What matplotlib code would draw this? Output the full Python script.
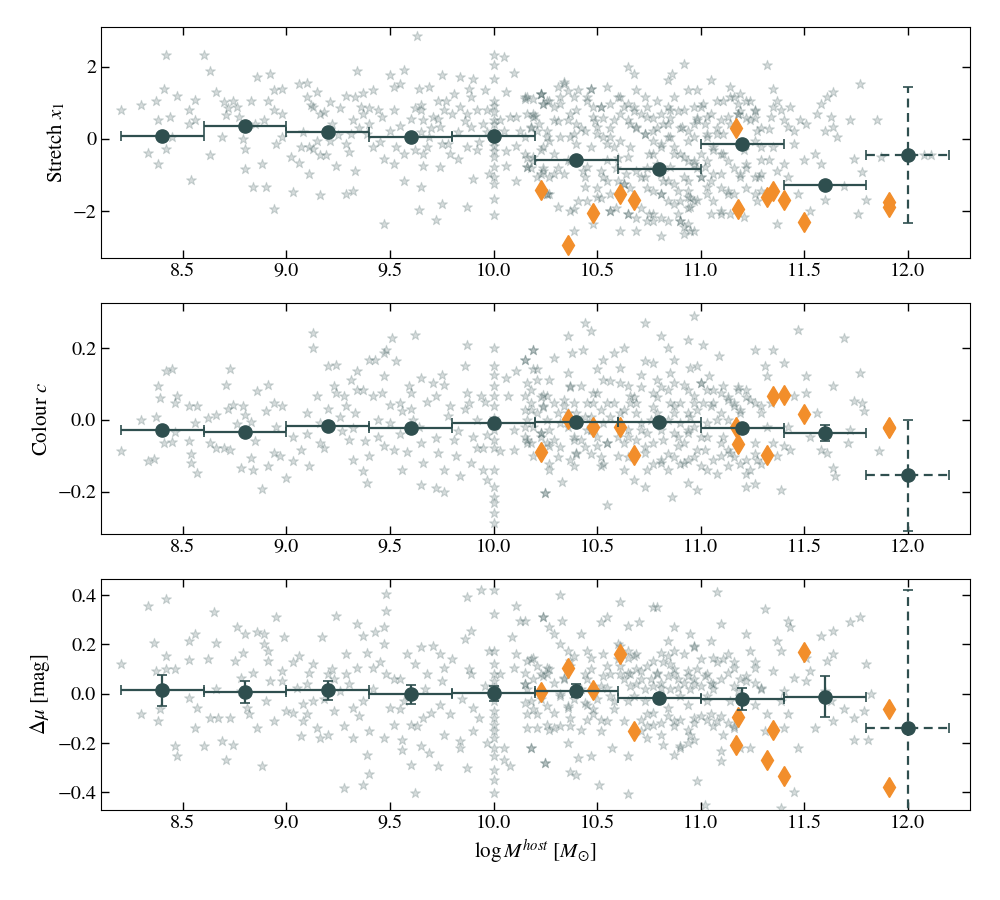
import matplotlib
matplotlib.use("Agg")
import matplotlib.pyplot as plt
import numpy as np

plt.rcParams['font.family'] = ['STIXGeneral', 'DejaVu Serif']
plt.rcParams['mathtext.fontset'] = 'stix'

# binned means
bin_centres = [8.4, 8.8, 9.2, 9.6, 10.0, 10.4, 10.8, 11.2, 11.6, 12.0]
bin_halfwidth = [0.2] * 10
stretch_mean = [0.07, 0.36, 0.19, 0.06, 0.07, -0.58, -0.84, -0.14, -1.27, -0.45]
stretch_err = [0.05, 0.05, 0.04, 0.04, 0.04, 0.05, 0.05, 0.06, 0.07, 1.88]
colour_mean = [-0.029, -0.033, -0.017, -0.023, -0.010, -0.006, -0.006, -0.022, -0.037, -0.155]
colour_err = [0.006, 0.006, 0.005, 0.005, 0.005, 0.005, 0.005, 0.007, 0.022, 0.155]
hr_mean = [0.014, 0.007, 0.014, -0.003, 0.001, 0.012, -0.016, -0.022, -0.012, -0.140]
hr_err = [0.064, 0.045, 0.038, 0.038, 0.032, 0.027, 0.015, 0.044, 0.084, 0.56]

# orange diamonds
diamond_mass = [10.23, 10.36, 10.48, 10.61, 10.68, 11.17, 11.18, 11.32, 11.35, 11.40, 11.50, 11.91, 11.91]
diamond_stretch = [-1.42, -2.94, -2.06, -1.52, -1.71, 0.31, -1.94, -1.62, -1.44, -1.69, -2.30, -1.76, -1.90]
diamond_colour = [-0.091, 0.002, -0.019, -0.019, -0.098, -0.021, -0.067, -0.098, 0.065, 0.070, 0.017, -0.021, -0.024]
diamond_hr = [0.008, 0.106, 0.014, 0.161, -0.150, -0.207, -0.094, -0.271, -0.146, -0.335, 0.171, -0.063, -0.378]

# background sample (mass, value)
stretch_stars = [
    (8.20, 0.79), (8.30, 0.95), (8.33, -0.39), (8.37, 1.06), (8.38, -0.71), (8.41, 1.39), (8.42, 2.31),
    (8.38, 0.51), (8.44, 0.60), (8.47, 1.20), (8.42, -0.28), (8.45, 0.05), (8.54, -1.13), (8.53, 0.79),
    (8.56, 1.08), (8.53, 0.40), (8.56, 0.51), (8.60, 2.33), (8.63, 1.87), (8.66, 1.30), (8.63, -0.44),
    (8.69, 0.05), (8.71, 0.65), (8.70, 1.02), (8.74, 1.06), (8.76, 0.88), (8.77, 0.60), (8.79, 0.00),
    (8.80, -0.28), (8.80, -0.83), (8.84, -1.34), (8.90, -1.34), (8.88, -0.71), (8.89, 0.51), (8.86, 1.71),
    (8.92, 1.81), (8.83, 1.06), (8.91, 1.06), (8.94, 1.34), (8.98, 1.39), (8.94, 0.79), (8.98, 0.05),
    (8.95, -0.14), (8.94, -1.94), (9.02, -0.51), (9.03, -1.48), (9.06, -0.68), (9.07, -0.23), (9.06, 1.53),
    (9.10, 1.55), (9.10, 1.16), (9.15, 1.30), (9.13, 0.88), (9.16, 0.69), (9.15, -0.05), (9.11, -0.23),
    (9.13, -0.28), (9.16, -0.46), (9.19, -0.46), (9.11, -0.97), (9.16, -1.57), (9.21, -0.05), (9.24, -0.74),
    (9.21, 1.02), (9.29, 1.20), (9.33, 1.16), (9.34, 1.87), (9.37, 1.27), (9.36, 0.88), (9.32, 0.51),
    (9.31, 0.14), (9.30, -0.37), (9.29, -0.14), (9.33, -0.88), (9.32, -1.44), (9.29, -1.53), (9.37, 0.69),
    (9.42, 1.34), (9.44, 0.79), (9.40, 0.42), (9.39, 0.14), (9.42, -0.23), (9.47, -0.56), (9.47, -2.36),
    (9.50, 1.76), (9.52, 1.44), (9.55, 1.53), (9.57, 1.90), (9.52, 0.79), (9.50, 0.23), (9.53, -0.23),
    (9.52, -0.69), (9.57, -1.16), (9.57, -0.42), (9.61, 0.05), (9.64, 1.39), (9.63, 2.84), (9.65, 0.93),
    (9.65, 0.79), (9.66, 0.51), (9.65, 0.19), (9.69, 0.05), (9.68, -0.23), (9.66, -0.42), (9.65, -1.34),
    (9.64, -1.97), (9.69, 1.44), (9.73, 1.06), (9.75, 1.76), (9.71, 0.60), (9.74, 0.32), (9.76, 0.79),
    (9.77, 1.06), (9.75, -0.14), (9.74, -0.79), (9.75, -1.81), (9.72, -2.25), (9.79, -0.42), (9.84, 1.71),
    (9.81, 1.25), (9.84, 0.88), (9.87, 0.69), (9.89, 1.16), (9.90, 1.67), (9.88, 1.39), (9.89, 0.32),
    (9.87, -0.23), (9.92, -0.32), (9.90, -1.11), (9.87, -1.90), (9.96, 1.34), (10.05, 2.27), (10.10, 1.82),
    (10.06, 1.30), (9.97, 0.79), (9.98, -0.97), (10.03, 0.51), (10.05, 0.23), (10.08, 0.60), (10.11, 0.60),
    (10.13, 0.23), (10.15, 1.11), (10.11, -0.19), (10.06, -0.74), (10.11, -1.16), (10.16, -0.79),
    (10.19, 0.60), (10.23, 1.25), (10.26, 1.06), (10.21, 0.23), (10.24, -0.23), (10.19, -0.51),
    (10.24, -0.88), (10.26, -1.53),
    (9.12, 0.95), (9.18, 0.75), (9.22, 0.40), (9.26, 0.85), (9.35, 0.30), (9.40, 0.85), (9.46, 0.60),
    (9.55, 0.35), (9.60, 0.55), (9.62, 0.85), (9.70, 0.30), (9.73, 0.55), (9.80, 0.70), (9.83, 0.20),
    (9.86, 0.50), (9.92, 0.80), (9.95, 0.40), (9.93, -0.10), (9.97, 0.20), (9.78, -0.15), (9.62, -0.30),
    (9.45, -0.10), (9.25, 0.10), (9.08, 0.20), (8.98, 0.70), (8.85, 0.40), (8.72, 0.85), (9.66, -0.75),
    (9.83, -0.55), (10.06, -0.35),
    (10.16, 1.16), (10.23, 1.25), (10.19, 0.69), (10.18, 0.32), (10.15, -0.42), (10.16, -0.79),
    (10.24, 0.97), (10.27, 1.06), (10.29, 0.51), (10.26, 0.05), (10.23, -0.32), (10.21, -1.06),
    (10.26, -1.53), (10.31, 1.44), (10.34, 1.57), (10.32, 0.97), (10.36, 0.51), (10.37, 0.05),
    (10.36, -0.60), (10.34, -0.97), (10.31, -1.90), (10.37, -1.99), (10.39, -2.55), (10.40, 0.79),
    (10.41, 1.34), (10.44, 0.23), (10.45, 1.06), (10.47, 1.39), (10.48, 0.60), (10.52, 0.88), (10.50, 0.32),
    (10.47, -0.23), (10.45, -0.79), (10.44, -1.34), (10.50, -1.62), (10.48, -2.36), (10.55, 1.44),
    (10.56, 0.97), (10.58, 0.51), (10.56, 0.05), (10.55, -0.60), (10.53, -1.06), (10.56, -1.99),
    (10.61, -2.55), (10.60, 1.16), (10.63, 0.88), (10.65, 0.51), (10.61, -0.05), (10.65, -0.51),
    (10.63, -1.25), (10.65, -2.08), (10.65, 1.99), (10.68, 1.81), (10.69, 1.34), (10.68, 0.88),
    (10.69, 0.32), (10.66, -0.23), (10.69, -0.88), (10.69, -2.55), (10.73, 1.16), (10.74, 0.60),
    (10.73, 0.14), (10.75, -0.42), (10.73, -1.06), (10.75, -2.08), (10.77, -2.27), (10.79, 1.06),
    (10.81, 0.69), (10.77, 0.23), (10.81, -0.23), (10.79, -0.69), (10.82, -1.16), (10.81, -1.53),
    (10.81, -2.69), (10.84, 1.62), (10.86, 1.81), (10.87, 1.16), (10.85, 0.79), (10.84, 0.42),
    (10.85, 0.05), (10.87, -0.42), (10.85, -0.79), (10.89, -1.44), (10.89, -2.08), (10.90, -2.27),
    (10.92, 2.08), (10.94, 1.34), (10.92, 0.79), (10.91, 0.32), (10.94, -0.05), (10.92, -0.51),
    (10.94, -1.16), (10.94, -1.62), (10.95, -1.90), (10.92, -2.45), (10.97, -2.55), (10.98, 1.34),
    (10.97, 0.88), (10.98, 0.51), (10.97, 0.05), (11.00, -0.42), (10.97, -0.69), (11.00, -1.06),
    (10.98, -1.71), (11.01, 0.97), (11.03, 0.60), (11.03, 0.05), (11.05, 1.62), (11.06, -0.32),
    (11.02, -0.79), (11.03, -1.34), (11.05, -2.08), (11.10, -2.08), (11.08, 1.06), (11.10, 0.51),
    (11.08, 0.14), (11.11, -0.42), (11.10, -0.97), (11.13, -1.53), (11.14, 1.44), (11.16, 1.16),
    (11.13, 0.60), (11.19, 1.25), (11.22, 1.06), (11.18, 0.69), (11.24, 0.51), (11.21, -0.32),
    (11.22, -0.69), (11.19, -1.06), (11.21, -2.18), (11.26, 0.79), (11.27, 0.23), (11.26, -0.05),
    (11.29, -0.23), (11.29, -0.60), (11.28, -1.06), (11.29, -1.44), (11.32, 2.04), (11.33, 0.28),
    (11.35, 1.39), (11.35, 0.88), (11.34, 0.60), (11.37, 1.06), (11.39, 0.79), (11.40, 0.51),
    (11.35, -0.23), (11.33, -0.60), (11.37, -0.88), (11.40, -0.69), (11.42, -1.06), (11.37, -2.36),
    (11.43, 0.88), (11.42, 0.32), (11.45, 0.23), (11.48, 0.51), (11.45, -0.14), (11.47, -1.53),
    (11.51, 0.42), (11.50, -0.60), (11.53, -1.99), (11.56, 0.69), (11.55, -0.42), (11.58, -0.69),
    (11.60, 0.23), (11.60, -1.71), (11.61, 1.16), (11.64, 1.30), (11.64, 0.32), (11.66, 0.05),
    (11.63, 0.60), (11.58, 0.97), (11.72, 0.51), (11.69, -1.30), (11.74, -0.56), (11.77, 1.53),
    (11.76, -2.08), (11.78, -0.93), (11.85, 0.51), (11.87, -0.51), (11.80, -1.71), (12.08, -0.46),
    (12.11, -0.46), (12.01, -0.46),
    (10.15, 1.15), (10.19, 1.10), (10.16, 0.69), (10.20, 0.64), (10.18, 0.31), (10.15, 0.04), (10.16, -0.52),
    (10.19, -0.61), (10.18, -0.80), (10.23, 1.24), (10.24, 0.96), (10.22, 0.41), (10.26, 0.22), (10.27, -0.06),
    (10.24, -0.80), (10.27, -1.07), (10.29, -0.98), (10.23, -0.98), (10.27, -1.54), (10.29, 0.87), (10.31, 0.50),
    (10.32, 0.04), (10.29, -0.43), (10.31, -0.80), (10.32, 1.15), (10.34, 1.52), (10.36, 1.33), (10.39, 1.15),
    (10.37, 0.69), (10.40, 0.41), (10.39, 0.13), (10.42, 0.31), (10.40, -0.15), (10.37, -0.61), (10.43, -0.89),
    (10.44, -1.07), (10.45, 1.15), (10.47, 1.38), (10.48, 0.87), (10.49, 0.50), (10.52, 0.87), (10.53, 0.59),
    (10.50, 0.13), (10.53, 0.04), (10.55, -0.15), (10.56, 0.31), (10.58, -0.24), (10.60, -0.52), (10.52, -0.89),
    (10.50, -1.35), (10.55, -1.17), (10.56, -1.54), (10.52, -1.63), (10.45, -1.72), (10.41, -1.72),
    (10.39, -1.95), (10.59, -0.80), (10.61, 0.69), (10.61, 1.15), (10.60, -1.17), (10.63, -1.26), (10.64, -0.98),
    (10.65, -2.09), (10.66, -1.35), (10.59, -1.91), (10.56, -2.00), (10.65, 0.96), (10.68, 0.78), (10.66, 0.41),
    (10.69, 0.31), (10.71, 0.69), (10.73, 0.13), (10.74, 0.87), (10.77, 0.59), (10.79, 0.31), (10.82, 0.41),
    (10.84, 0.87), (10.85, 0.59), (10.89, 0.78), (10.90, 0.31), (10.94, 0.22), (10.97, 0.41), (10.98, 0.59),
    (11.00, 0.87), (10.77, -0.06), (10.81, -0.15), (10.84, 0.04), (10.87, -0.24), (10.90, -0.43),
    (10.94, -0.61), (10.97, -0.61), (10.98, -0.80), (11.00, -1.07), (10.77, -0.43), (10.74, -0.80),
    (10.71, -1.07), (10.81, -0.98), (10.84, -1.17), (10.87, -1.26), (10.92, -1.07), (10.94, -1.44),
    (10.95, -1.63), (10.97, -1.72), (10.90, -1.72), (10.87, -1.81), (10.94, -1.91), (10.74, -1.35),
    (10.77, -1.44), (10.81, -1.54), (10.84, -1.72), (10.77, -2.09), (10.81, -2.19), (10.84, -2.28),
    (10.90, -2.28), (10.94, -2.37), (10.95, -2.56), (10.92, -2.65), (10.71, -1.91), (10.68, -1.72),
    (10.69, -2.19), (10.74, -2.28), (11.02, 0.41), (11.05, 0.69), (11.08, 0.31), (11.11, 0.13), (11.14, 0.41),
    (11.18, 0.69), (11.19, 0.78), (11.22, 0.59), (11.26, 0.78), (11.03, 0.13), (11.06, -0.24), (11.10, -0.43),
    (11.13, -0.61), (11.16, -0.80), (11.19, -0.98), (11.22, -0.80), (11.26, -1.07), (11.29, -0.98),
    (11.03, -0.61), (11.06, -0.98), (11.10, -1.35), (11.13, -1.44), (11.16, -1.54), (11.22, -1.35),
    (11.26, -1.54), (11.27, -1.72), (11.05, -1.17), (11.03, -1.54), (11.06, -1.72), (11.10, -2.00),
    (11.14, -2.09), (11.11, 1.06), (11.14, 1.15), (11.18, 0.96), (11.24, 1.06), (11.26, 0.59), (11.29, 0.31),
]
stretch_at10 = [2.31, 2.04, 1.67, 1.06, 0.90, 0.74, 0.51, 0.40, 0.23, 0.10, -0.05, -0.20, -0.35,
                -0.51, -0.79, -1.06, -1.25, -1.67, -2.10]

colour_stars = [
    (8.20, -0.088), (8.30, 0.000), (8.33, -0.116), (8.36, -0.109), (8.37, 0.009), (8.38, 0.095),
    (8.39, 0.060), (8.42, 0.135), (8.45, 0.141), (8.41, -0.065), (8.45, -0.062), (8.47, 0.067),
    (8.46, 0.047), (8.46, -0.033), (8.53, 0.037), (8.57, 0.039), (8.53, -0.060), (8.54, -0.096),
    (8.54, -0.121), (8.57, -0.149), (8.56, -0.009), (8.62, 0.005), (8.66, 0.014), (8.63, -0.065),
    (8.66, -0.079), (8.70, -0.079), (8.73, -0.084), (8.71, 0.098), (8.73, 0.140), (8.74, 0.042),
    (8.76, -0.012), (8.79, 0.037), (8.80, 0.014), (8.83, -0.005), (8.86, 0.079), (8.91, 0.098),
    (8.90, 0.023), (8.94, 0.047), (8.98, 0.037), (8.78, -0.135), (8.83, -0.107), (8.84, -0.140),
    (8.88, -0.193), (8.91, -0.130), (8.94, -0.093), (8.97, -0.102), (9.00, -0.163), (9.03, -0.116),
    (9.03, -0.047), (9.07, -0.084), (9.10, 0.019), (9.13, 0.242), (9.13, 0.200), (9.15, 0.065),
    (9.11, -0.130), (9.16, -0.065), (9.20, 0.149), (9.23, 0.093), (9.24, 0.153), (9.24, 0.074),
    (9.28, 0.065), (9.29, 0.037), (9.26, 0.009), (9.30, -0.056), (9.32, -0.112), (9.31, 0.112),
    (9.34, 0.135), (9.34, 0.084), (9.32, -0.023), (9.37, -0.144), (9.39, -0.177), (9.37, 0.084),
    (9.40, 0.167), (9.43, 0.167), (9.42, 0.065), (9.44, -0.047), (9.47, 0.186), (9.48, 0.195),
    (9.51, 0.228), (9.53, 0.163), (9.47, 0.121), (9.46, 0.074), (9.50, -0.009), (9.52, -0.084),
    (9.47, -0.074), (9.56, -0.140), (9.55, 0.047), (9.56, 0.023), (9.60, 0.074), (9.59, 0.093),
    (9.62, 0.237), (9.65, 0.116), (9.61, 0.000), (9.65, -0.065), (9.66, -0.121), (9.65, -0.181),
    (9.71, 0.102), (9.75, 0.126), (9.76, 0.098), (9.72, 0.065), (9.73, -0.093), (9.76, -0.140),
    (9.72, -0.191), (9.76, -0.200), (9.79, 0.037), (9.81, -0.056), (9.84, -0.158), (9.86, 0.149),
    (9.87, 0.209), (9.87, 0.074), (9.88, 0.047), (9.90, -0.047), (9.89, -0.121), (9.94, 0.065),
    (9.92, -0.079), (9.95, -0.140), (9.97, -0.167), (9.97, -0.042), (10.03, -0.088), (10.06, 0.116),
    (10.07, 0.065), (10.10, -0.028), (10.11, 0.135), (10.10, -0.084), (10.15, 0.167), (10.18, 0.084),
    (10.19, 0.195), (10.21, 0.112), (10.24, 0.070), (10.23, -0.037), (10.16, -0.065), (10.25, -0.203),
    (10.21, 0.141),
    (9.10, -0.040), (9.16, -0.010), (9.20, 0.030), (9.27, -0.030), (9.33, 0.020), (9.38, -0.060),
    (9.44, 0.000), (9.50, 0.040), (9.55, -0.040), (9.60, 0.030), (9.64, -0.020), (9.68, 0.050),
    (9.72, -0.050), (9.78, 0.010), (9.83, -0.030), (9.86, 0.030), (9.92, 0.000), (9.95, -0.080),
    (9.96, 0.050), (9.18, -0.080), (9.40, -0.100), (9.58, -0.090), (9.82, -0.100), (8.95, -0.020),
    (8.85, -0.060), (8.72, 0.030),
    (10.15, 0.167), (10.19, 0.195), (10.19, 0.140), (10.16, 0.102), (10.15, 0.065), (10.18, 0.028),
    (10.15, -0.019), (10.16, -0.056), (10.19, -0.102), (10.26, 0.065), (10.29, 0.172), (10.27, 0.112),
    (10.24, 0.037), (10.23, -0.037), (10.27, -0.074), (10.27, -0.140), (10.25, -0.205), (10.33, -0.172),
    (10.36, 0.233), (10.38, 0.186), (10.36, 0.130), (10.37, 0.093), (10.34, 0.037), (10.36, -0.019),
    (10.39, -0.056), (10.40, -0.093), (10.39, -0.130), (10.43, 0.195), (10.44, 0.270), (10.47, 0.247),
    (10.42, 0.093), (10.45, 0.047), (10.44, 0.009), (10.48, 0.074), (10.50, 0.140), (10.47, -0.028),
    (10.50, -0.074), (10.52, -0.130), (10.53, 0.167), (10.56, 0.107), (10.58, 0.186), (10.55, 0.047),
    (10.56, 0.009), (10.55, -0.065), (10.60, -0.102), (10.55, -0.237), (10.63, 0.200), (10.61, 0.144),
    (10.65, 0.093), (10.66, 0.065), (10.63, 0.028), (10.65, -0.047), (10.63, -0.140), (10.68, -0.167),
    (10.73, 0.270), (10.73, 0.163), (10.71, 0.126), (10.69, 0.047), (10.71, -0.028), (10.73, -0.093),
    (10.73, -0.186), (10.77, 0.158), (10.81, 0.233), (10.79, 0.112), (10.77, 0.074), (10.79, 0.019),
    (10.77, -0.065), (10.81, -0.121), (10.84, 0.200), (10.87, 0.167), (10.85, 0.130), (10.84, 0.084),
    (10.87, 0.037), (10.87, -0.037), (10.89, -0.074), (10.84, -0.140), (10.86, -0.214), (10.94, 0.223),
    (10.95, 0.144), (10.92, 0.098), (10.90, 0.047), (10.94, 0.019), (10.94, -0.037), (10.92, -0.121),
    (10.94, -0.177), (10.97, 0.288), (11.01, 0.209), (10.98, 0.149), (11.00, 0.102), (10.97, 0.065),
    (11.01, 0.047), (10.97, -0.019), (10.98, -0.084), (11.00, -0.130), (10.98, -0.195), (11.04, 0.121),
    (11.06, 0.084), (11.05, 0.037), (11.08, 0.000), (11.03, -0.047), (11.10, -0.102), (11.09, 0.177),
    (11.11, 0.093), (11.13, 0.056), (11.16, 0.037), (11.11, -0.047), (11.14, -0.093), (11.13, -0.130),
    (11.18, 0.084), (11.19, 0.019), (11.22, 0.084), (11.24, 0.056), (11.24, -0.140), (11.22, -0.186),
    (11.26, 0.195), (11.29, 0.037), (11.26, -0.065), (11.27, -0.112), (11.31, 0.149), (11.32, 0.121),
    (11.34, 0.047), (11.35, 0.195), (11.32, -0.019), (11.35, -0.065), (11.37, -0.102), (11.39, -0.195),
    (11.40, 0.158), (11.42, -0.019), (11.40, -0.074), (11.43, -0.084), (11.47, 0.251), (11.45, 0.065),
    (11.51, 0.121), (11.51, 0.074), (11.53, -0.047), (11.56, 0.019), (11.58, -0.084), (11.61, -0.093),
    (11.64, 0.093), (11.64, -0.135), (11.65, -0.158), (11.69, 0.228), (11.71, -0.065), (11.72, -0.028),
    (11.74, 0.051), (11.77, 0.130), (11.78, 0.047), (11.79, 0.023), (11.86, -0.088),
    (10.15, 0.027), (10.18, 0.046), (10.16, -0.001), (10.19, -0.020), (10.15, -0.047), (10.18, -0.066),
    (10.21, 0.018), (10.23, 0.064), (10.24, 0.036), (10.26, -0.001), (10.23, -0.047), (10.26, -0.066),
    (10.27, -0.029), (10.29, 0.046), (10.31, 0.018), (10.32, -0.010), (10.29, -0.057), (10.32, -0.075),
    (10.31, -0.103), (10.27, -0.122), (10.34, 0.055), (10.37, 0.092), (10.39, 0.046), (10.36, 0.018),
    (10.40, 0.018), (10.39, -0.047), (10.42, -0.057), (10.44, -0.075), (10.40, -0.094), (10.37, -0.113),
    (10.45, -0.029), (10.47, 0.008), (10.48, 0.046), (10.50, 0.074), (10.52, 0.027), (10.53, -0.010),
    (10.50, -0.047), (10.47, -0.094), (10.52, -0.103), (10.55, -0.066), (10.53, -0.122), (10.58, 0.046),
    (10.61, 0.018), (10.60, -0.047), (10.63, -0.066), (10.65, -0.029), (10.65, -0.103), (10.66, 0.046),
    (10.68, 0.064), (10.69, 0.018), (10.71, -0.010), (10.69, -0.057), (10.73, -0.075), (10.74, -0.038),
    (10.76, -0.001), (10.77, 0.036), (10.79, 0.064), (10.81, -0.029), (10.82, -0.057), (10.84, -0.001),
    (10.85, 0.046), (10.87, 0.018), (10.89, -0.047), (10.90, -0.010), (10.92, -0.066), (10.94, -0.029),
    (10.95, 0.008), (10.97, 0.046), (10.98, 0.027), (11.00, -0.047), (11.02, -0.085), (10.97, -0.103),
    (10.94, -0.113), (10.90, -0.122), (10.87, -0.103), (10.84, -0.094), (10.81, -0.113), (10.77, -0.122),
    (10.74, -0.141), (11.03, -0.010), (11.06, 0.046), (11.10, 0.018), (11.13, -0.001), (11.16, 0.046),
    (11.19, 0.027), (11.22, 0.064), (11.26, 0.046), (11.29, 0.018), (11.10, -0.066), (11.13, -0.085),
    (11.16, -0.103), (11.19, -0.122), (11.22, -0.113), (11.26, -0.094), (11.29, -0.122), (11.06, -0.113),
    (11.03, -0.141), (11.08, -0.150), (11.22, -0.150), (11.26, -0.178), (10.53, 0.111), (10.61, 0.101),
    (10.71, 0.092), (10.81, 0.092), (10.87, 0.101), (10.94, 0.083), (11.00, 0.101), (11.03, 0.083),
    (11.10, 0.074), (11.13, 0.064), (11.18, 0.092),
]
colour_at10 = [0.200, 0.149, 0.126, 0.093, 0.065, 0.037, 0.005, -0.028, -0.056, -0.079, -0.140,
               -0.186, -0.214, -0.233, -0.260, -0.288]

hr_stars = [
    (8.20, 0.120), (8.30, -0.084), (8.33, 0.358), (8.36, 0.204), (8.37, 0.093), (8.38, -0.112),
    (8.39, -0.064), (8.42, 0.385), (8.42, 0.154), (8.42, 0.099), (8.46, 0.099), (8.46, -0.214),
    (8.47, -0.254), (8.53, 0.215), (8.53, 0.136), (8.56, 0.242), (8.53, -0.016), (8.57, -0.057),
    (8.56, -0.139), (8.60, -0.214), (8.62, 0.140), (8.65, 0.331), (8.66, 0.204), (8.66, 0.018),
    (8.63, -0.098), (8.67, -0.098), (8.73, -0.098), (8.69, -0.193), (8.71, -0.268), (8.74, -0.207),
    (8.76, 0.269), (8.75, 0.133), (8.78, 0.065), (8.79, 0.167), (8.80, 0.242), (8.81, -0.057),
    (8.82, -0.084), (8.84, 0.086), (8.86, 0.249), (8.89, 0.242), (8.89, 0.201), (8.91, 0.174),
    (8.91, 0.133), (8.86, -0.139), (8.88, -0.295), (8.92, 0.052), (8.94, -0.112), (8.95, 0.310),
    (8.98, 0.093), (8.99, 0.229), (9.00, -0.071), (9.03, 0.127), (9.06, 0.154), (9.07, -0.173),
    (9.05, 0.024), (9.03, -0.078), (9.08, -0.112), (9.10, -0.084), (9.11, 0.086), (9.13, 0.120),
    (9.13, -0.030), (9.15, -0.139), (9.17, 0.229), (9.16, -0.180), (9.20, -0.166), (9.20, 0.079),
    (9.23, -0.071), (9.24, 0.317), (9.23, 0.059), (9.26, 0.011), (9.29, 0.161), (9.28, -0.132),
    (9.29, 0.079), (9.28, -0.384), (9.32, -0.057), (9.34, 0.283), (9.34, 0.106), (9.32, -0.180),
    (9.37, 0.235), (9.39, 0.167), (9.37, -0.030), (9.39, -0.248), (9.40, -0.327), (9.37, -0.370),
    (9.42, 0.106), (9.43, 0.249), (9.47, 0.269), (9.48, 0.405), (9.48, 0.337), (9.47, 0.201),
    (9.48, 0.079), (9.50, -0.057), (9.52, -0.125), (9.47, -0.180), (9.55, 0.059), (9.56, -0.186),
    (9.56, -0.227), (9.60, -0.288), (9.57, -0.030), (9.60, -0.125), (9.58, 0.161), (9.62, -0.404),
    (9.65, 0.188), (9.68, 0.079), (9.66, -0.098), (9.65, -0.214), (9.69, -0.241), (9.71, 0.195),
    (9.73, -0.295), (9.74, 0.161), (9.76, 0.106), (9.74, -0.044), (9.76, -0.166), (9.79, -0.084),
    (9.84, -0.193), (9.84, -0.220), (9.86, 0.222), (9.87, 0.392), (9.89, 0.256), (9.87, -0.302),
    (9.89, 0.079), (9.90, -0.057), (9.90, -0.152), (9.94, 0.419), (9.97, -0.200), (9.98, 0.174),
    (10.03, 0.079), (10.05, -0.220), (10.05, -0.268), (10.08, -0.295), (10.09, 0.229), (10.10, 0.106),
    (10.11, 0.358), (10.13, 0.297), (10.11, 0.161), (10.15, 0.038), (10.16, -0.139), (10.18, -0.220),
    (10.21, -0.084), (10.24, 0.310), (10.25, -0.282), (10.26, 0.079), (10.27, -0.146),
    (9.10, 0.040), (9.18, -0.020), (9.22, 0.100), (9.30, 0.040), (9.35, -0.090), (9.42, 0.020),
    (9.45, 0.130), (9.52, 0.060), (9.55, -0.060), (9.62, 0.120), (9.67, 0.020), (9.70, -0.080),
    (9.75, 0.050), (9.80, 0.140), (9.85, -0.020), (9.88, 0.100), (9.93, -0.100), (9.96, 0.030),
    (9.08, -0.040), (8.98, 0.050), (8.90, -0.030), (8.78, 0.010), (9.40, -0.150), (9.63, -0.130),
    (10.15, 0.297), (10.24, 0.310), (10.27, 0.269), (10.29, 0.242), (10.32, 0.399), (10.33, 0.297),
    (10.16, 0.133), (10.19, 0.147), (10.23, 0.079), (10.26, 0.106), (10.15, 0.038), (10.18, -0.030),
    (10.16, -0.084), (10.21, -0.139), (10.26, -0.125), (10.29, -0.139), (10.18, -0.220), (10.25, -0.282),
    (10.32, 0.201), (10.36, 0.174), (10.37, 0.133), (10.34, 0.065), (10.32, -0.003), (10.36, -0.057),
    (10.37, -0.098), (10.36, -0.200), (10.37, -0.316), (10.40, -0.329), (10.41, -0.261), (10.42, 0.242),
    (10.44, 0.079), (10.45, 0.174), (10.47, 0.147), (10.45, -0.044), (10.48, -0.084), (10.52, -0.152),
    (10.47, -0.254), (10.51, -0.370), (10.52, 0.290), (10.55, 0.310), (10.53, 0.161), (10.56, 0.079),
    (10.55, 0.024), (10.58, -0.030), (10.55, -0.112), (10.57, -0.220), (10.61, 0.371), (10.60, 0.201),
    (10.61, 0.079), (10.65, 0.276), (10.65, 0.147), (10.66, 0.079), (10.65, -0.030), (10.63, -0.112),
    (10.65, -0.254), (10.65, -0.407), (10.70, 0.290), (10.69, 0.161), (10.71, 0.093), (10.69, 0.038),
    (10.73, -0.030), (10.74, -0.084), (10.71, -0.152), (10.74, -0.180), (10.77, 0.351), (10.79, 0.351),
    (10.77, 0.133), (10.79, 0.079), (10.81, 0.024), (10.77, -0.125), (10.81, -0.166), (10.82, -0.207),
    (10.87, 0.269), (10.84, 0.215), (10.85, 0.120), (10.87, 0.079), (10.89, 0.024), (10.84, -0.057),
    (10.87, -0.112), (10.87, -0.248), (10.90, -0.220), (10.95, 0.242), (10.97, 0.188), (10.92, 0.161),
    (10.94, 0.093), (10.97, 0.038), (10.94, -0.044), (10.97, -0.098), (10.95, -0.166), (10.98, -0.356),
    (11.02, -0.450), (11.08, 0.412), (11.05, 0.215), (11.06, 0.147), (11.03, 0.079), (11.06, 0.038),
    (11.03, -0.030), (11.05, -0.084), (11.08, -0.112), (11.11, -0.166), (11.10, -0.234), (11.10, -0.275),
    (11.10, 0.283), (11.13, 0.161), (11.16, 0.106), (11.18, 0.011), (11.14, -0.030), (11.16, -0.139),
    (11.19, -0.220), (11.24, -0.220), (11.22, 0.242), (11.24, 0.174), (11.26, 0.106), (11.22, 0.052),
    (11.29, 0.024), (11.26, -0.044), (11.32, -0.084), (11.31, -0.152), (11.31, 0.344), (11.35, 0.093),
    (11.39, 0.174), (11.37, 0.215), (11.42, 0.297), (11.43, 0.269), (11.40, 0.011), (11.39, -0.030),
    (11.42, -0.084), (11.40, -0.139), (11.45, 0.065), (11.47, -0.220), (11.45, -0.397), (11.39, -0.462),
    (11.51, 0.147), (11.53, 0.093), (11.51, 0.052), (11.55, -0.139), (11.58, 0.235), (11.61, 0.133),
    (11.64, 0.256), (11.64, 0.161), (11.60, 0.011), (11.63, -0.030), (11.64, -0.112), (11.69, -0.064),
    (11.72, 0.290), (11.74, -0.098), (11.74, -0.186), (11.77, 0.310), (11.80, 0.120), (11.79, -0.071),
    (11.82, -0.003), (11.81, -0.186),
    (10.15, 0.086), (10.18, 0.140), (10.21, 0.113), (10.19, 0.059), (10.16, 0.018), (10.15, -0.037),
    (10.19, -0.064), (10.23, -0.023), (10.24, 0.072), (10.27, 0.099), (10.29, 0.045), (10.26, -0.050),
    (10.29, -0.078), (10.32, -0.010), (10.34, 0.059), (10.37, 0.113), (10.39, 0.154), (10.36, -0.050),
    (10.39, -0.023), (10.42, 0.018), (10.44, -0.037), (10.45, 0.059), (10.47, 0.099), (10.48, -0.064),
    (10.50, -0.023), (10.52, 0.031), (10.53, 0.072), (10.55, 0.113), (10.56, -0.010), (10.58, -0.064),
    (10.52, -0.105), (10.45, -0.105), (10.42, -0.146), (10.37, -0.132), (10.32, -0.132), (10.60, 0.140),
    (10.61, 0.113), (10.63, 0.059), (10.65, 0.086), (10.66, 0.031), (10.68, -0.010), (10.69, 0.099),
    (10.71, 0.059), (10.73, 0.018), (10.74, 0.113), (10.76, 0.059), (10.77, 0.031), (10.79, 0.086),
    (10.81, 0.045), (10.82, 0.127), (10.84, 0.072), (10.85, 0.018), (10.87, 0.099), (10.89, 0.059),
    (10.90, -0.010), (10.92, 0.045), (10.94, 0.072), (10.95, 0.018), (10.97, 0.059), (10.98, 0.099),
    (11.00, 0.031), (11.02, 0.072), (11.03, -0.010), (11.05, 0.045), (11.06, 0.018), (11.10, 0.059),
    (11.13, 0.086), (11.16, 0.031), (11.19, 0.059), (11.22, 0.072), (11.26, 0.045), (11.29, 0.018),
    (10.77, -0.078), (10.81, -0.118), (10.84, -0.091), (10.87, -0.132), (10.90, -0.105), (10.94, -0.146),
    (10.97, -0.118), (11.00, -0.091), (10.74, -0.132), (10.71, -0.105), (11.03, -0.105), (11.06, -0.132),
    (11.10, -0.091), (11.13, -0.118), (11.16, -0.132), (10.94, -0.200), (10.90, -0.214), (10.97, -0.186),
    (11.08, 0.127), (11.11, 0.140), (11.16, 0.127), (11.26, 0.127), (10.61, 0.195), (10.65, 0.174),
    (10.68, 0.154), (10.81, 0.167), (10.84, 0.154), (10.87, 0.174), (10.97, 0.195), (11.00, 0.140),
]
hr_at10 = [0.419, 0.324, 0.174, 0.120, 0.079, 0.052, 0.024, -0.030, -0.071, -0.098, -0.125, -0.152,
           -0.180, -0.220, -0.254, -0.309, -0.350, -0.404]

slate = '#2f4f4f'
orange = '#f28e2b'

fig, axes = plt.subplots(3, 1, figsize=(10, 9), dpi=100)
fig.subplots_adjust(left=0.101, right=0.97, top=0.97, bottom=0.1, hspace=0.196)

panels = [
    (stretch_stars, stretch_at10, diamond_stretch, stretch_mean, stretch_err, r'Stretch $x_1$', (-3.3, 3.1), [-2, 0, 2]),
    (colour_stars, colour_at10, diamond_colour, colour_mean, colour_err, r'Colour $c$', (-0.318, 0.325), [-0.2, 0.0, 0.2]),
    (hr_stars, hr_at10, diamond_hr, hr_mean, hr_err, r'$\Delta\mu$ [mag]', (-0.472, 0.465), [-0.4, -0.2, 0.0, 0.2, 0.4]),
]

for ax, (stars, at10, dia, mean, err, label, ylim, yt) in zip(axes, panels):
    sx = [p[0] for p in stars] + [10.0] * len(at10)
    sy = [p[1] for p in stars] + list(at10)
    ax.scatter(sx, sy, marker='*', s=55, color=slate, alpha=0.2, linewidths=0.8, zorder=1)
    ax.plot(diamond_mass, dia, 'd', color=orange, markersize=10, zorder=3)
    ax.errorbar(bin_centres[:-1], mean[:-1], xerr=bin_halfwidth[:-1], yerr=err[:-1],
                fmt='o', color=slate, markersize=9.5, capsize=3.5, elinewidth=1.6, capthick=1.2, zorder=4)
    eb = ax.errorbar(bin_centres[-1:], mean[-1:], xerr=bin_halfwidth[-1:], yerr=err[-1:],
                     fmt='o', color=slate, markersize=9.5, capsize=3.5, elinewidth=1.6, capthick=1.2, zorder=4)
    for bar in eb[2]:
        bar.set_linestyle((0, (4, 2.5)))
    ax.set_xlim(8.105, 12.3)
    ax.set_ylim(*ylim)
    ax.set_yticks(yt)
    ax.set_xticks([8.5, 9.0, 9.5, 10.0, 10.5, 11.0, 11.5, 12.0])
    ax.set_ylabel(label, fontsize=15)
    ax.tick_params(direction='in', top=True, right=True, labelsize=14.5, length=6, width=1)

axes[2].set_xlabel(r'$\log M^{host}\ [M_{\odot}]$', fontsize=15)

fig.savefig('out.png', dpi=100)
